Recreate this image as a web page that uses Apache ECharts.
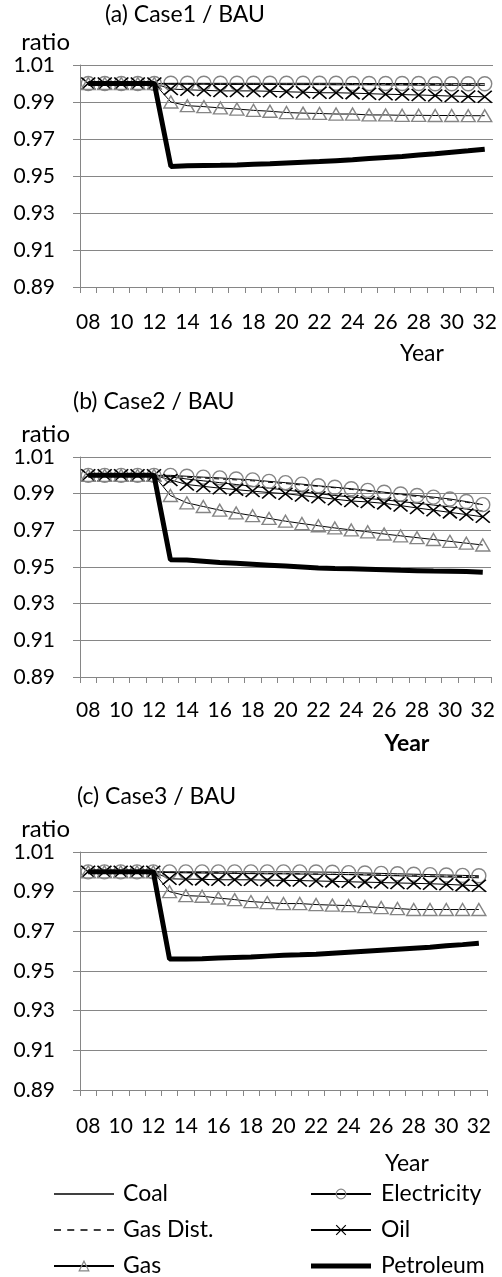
<!DOCTYPE html>
<html><head><meta charset="utf-8">
<script src="https://cdn.jsdelivr.net/npm/echarts@6/dist/echarts.min.js"></script>
<style>html,body{margin:0;padding:0;background:#fff}#c{width:502px;height:1277px}</style>
</head><body><div id="c"></div>
<script>
// ---- data ----
const years = ['08','09','10','11','12','13','14','15','16','17','18','19','20','21','22','23','24','25','26','27','28','29','30','31','32'];
const panelTitles = ['(a) Case1 / BAU', '(b) Case2 / BAU', '(c) Case3 / BAU'];
const yMin = 0.89, yMax = 1.01, yStep = 0.02;

// Panel (a) Case1 / BAU
const coalA    = [1,1,1,1,1, 0.9996,0.9996,0.9996,0.9995,0.9995,0.9995,0.9995,0.9994,0.9994,0.9994,0.9993,0.9993,0.9993,0.9992,0.9992,0.9991,0.9991,0.999,0.999,0.999];
const elecA    = [1,1,1,1,1, 1.0001,1.0001,1.0001,1.0001,1.0001,1.0001,1.0001,1.0001,1.0001,1.0001,1.0001,1.0,1.0,1.0,1.0,1.0,0.9999,0.9999,0.9999,0.9999];
const gasDistA = [1,1,1,1,1, 0.9998,0.9998,0.9998,0.9997,0.9997,0.9997,0.9997,0.9996,0.9996,0.9996,0.9996,0.9995,0.9995,0.9995,0.9994,0.9994,0.9994,0.9993,0.9993,0.9993];
const oilA     = [1,1,1,1,1, 0.997,0.9966,0.9963,0.996,0.996,0.996,0.9958,0.9955,0.9953,0.995,0.995,0.9948,0.9945,0.9942,0.994,0.9938,0.9935,0.9932,0.993,0.9928];
const gasA     = [1,1,1,1,1, 0.990,0.988,0.9875,0.9868,0.9862,0.9855,0.985,0.9843,0.984,0.9838,0.9835,0.9835,0.983,0.983,0.9828,0.9828,0.9827,0.9827,0.9826,0.9826];
const petroA   = [1,1,1,1,1, 0.9552,0.9555,0.9557,0.9558,0.956,0.9563,0.9566,0.957,0.9574,0.9578,0.9583,0.9588,0.9594,0.96,0.9606,0.9613,0.962,0.9628,0.9636,0.9645];

// Panel (b) Case2 / BAU
const coalB    = [1,1,1,1,1, 0.9992,0.998,0.997,0.996,0.995,0.994,0.993,0.992,0.991,0.990,0.989,0.9882,0.9874,0.9866,0.9857,0.9848,0.9838,0.9828,0.9816,0.9805];
const elecB    = [1,1,1,1,1, 1.0,0.9995,0.999,0.9986,0.998,0.9975,0.9967,0.996,0.9952,0.9943,0.9935,0.9927,0.9918,0.9908,0.9898,0.989,0.9881,0.9871,0.9857,0.984];
const gasDistB = [1,1,1,1,1, 0.9995,0.999,0.9985,0.998,0.9975,0.997,0.9962,0.9955,0.9947,0.994,0.9932,0.9923,0.9914,0.9905,0.9895,0.9885,0.9875,0.9865,0.9853,0.984];
const oilB     = [1,1,1,1,1, 0.9975,0.995,0.994,0.993,0.9922,0.9914,0.9906,0.990,0.989,0.988,0.987,0.986,0.9855,0.9847,0.9835,0.9822,0.981,0.9798,0.9786,0.9774];
const gasB     = [1,1,1,1,1, 0.989,0.985,0.983,0.981,0.9795,0.978,0.9765,0.975,0.9737,0.9725,0.9713,0.9702,0.9692,0.968,0.967,0.966,0.965,0.964,0.963,0.962];
const petroB   = [1,1,1,1,1, 0.954,0.9538,0.9532,0.9525,0.952,0.9515,0.951,0.9505,0.95,0.9495,0.9492,0.949,0.9488,0.9485,0.9482,0.948,0.9478,0.9477,0.9476,0.9472];

// Panel (c) Case3 / BAU
const coalC    = [1,1,1,1,1, 0.9996,0.9995,0.9994,0.9993,0.9992,0.9991,0.999,0.999,0.9989,0.9988,0.9987,0.9986,0.9984,0.9982,0.998,0.9978,0.9976,0.9974,0.9972,0.997];
const elecC    = [1,1,1,1,1, 1.0,1.0,1.0,1.0,1.0,1.0,1.0,1.0,1.0,0.9999,0.9998,0.9996,0.9994,0.9992,0.999,0.9988,0.9986,0.9984,0.9982,0.998];
const gasDistC = [1,1,1,1,1, 0.9998,0.9997,0.9996,0.9995,0.9994,0.9993,0.9992,0.9991,0.999,0.9989,0.9988,0.9987,0.9986,0.9984,0.9982,0.998,0.9979,0.9978,0.9976,0.9975];
const oilC     = [1,1,1,1,1, 0.9965,0.9963,0.9962,0.996,0.996,0.996,0.9958,0.9957,0.9956,0.9954,0.9952,0.995,0.9948,0.9946,0.9944,0.9942,0.994,0.9937,0.9933,0.993];
const gasC     = [1,1,1,1,1, 0.990,0.988,0.9877,0.9868,0.986,0.985,0.9845,0.984,0.984,0.9835,0.9832,0.983,0.9825,0.982,0.9815,0.981,0.981,0.981,0.981,0.981];
const petroC   = [1,1,1,1,1, 0.956,0.956,0.9562,0.9565,0.9568,0.957,0.9575,0.958,0.9582,0.9585,0.959,0.9595,0.96,0.9605,0.961,0.9615,0.962,0.9627,0.9633,0.964];

const seriesNames = ['Coal','Electricity','Gas Dist.','Oil','Gas','Petroleum'];
const panelData = [
  [coalA, elecA, gasDistA, oilA, gasA, petroA],
  [coalB, elecB, gasDistB, oilB, gasB, petroB],
  [coalC, elecC, gasDistC, oilC, gasC, petroC]
];

// ---- styling ----
const FONT = 'Lato';
const GRID_GRAY = '#868686';
const MARK_GRAY = '#858585';
const X_PATH = 'path://M0,0L10,10M10,0L0,10';
const styles = {
  'Coal':       {symbol:'none', lineStyle:{color:'#000', width:1}, itemStyle:{color:'#000'}},
  'Electricity':{symbol:'circle', symbolSize:14, lineStyle:{color:'#000', width:1}, itemStyle:{color:'rgba(255,255,255,0)', borderColor:MARK_GRAY, borderWidth:1.4}},
  'Gas Dist.':  {symbol:'none', lineStyle:{color:'#000', width:1, type:[5,4]}, itemStyle:{color:'#000'}},
  'Oil':        {symbol:X_PATH, symbolSize:[14,12], lineStyle:{color:'#000', width:1}, itemStyle:{color:'rgba(0,0,0,0)', borderColor:'#000', borderWidth:1.6}},
  'Gas':        {symbol:'triangle', symbolSize:[14,12], lineStyle:{color:'#000', width:1}, itemStyle:{color:'rgba(255,255,255,0)', borderColor:MARK_GRAY, borderWidth:1.4}},
  'Petroleum':  {symbol:'none', lineStyle:{color:'#000', width:5}, itemStyle:{color:'#000'}}
};

const grids = [
  {left:80, top:65, right:9, height:222},
  {left:80, top:457, right:11, height:220},
  {left:80, top:852, right:15, height:238}
];
const xLabelMargin = [25, 23, 26];
const yearName = [
  {gap:-71, pad:55, bold:false},
  {gap:-84, pad:55, bold:true},
  {gap:-80, pad:62, bold:false}
];
const titlePos = [{left:105, top:2}, {left:73, top:389}, {left:77, top:784}];

const legendCommon = {orient:'vertical', top:1182, itemWidth:60, itemHeight:12, itemGap:12, padding:0,
  height:100, symbolKeepAspect:true, selectedMode:false};

const option = {
  animation:false,
  textStyle:{fontFamily:FONT},
  title: panelTitles.map((t,i)=>({text:t, left:titlePos[i].left, top:titlePos[i].top, padding:0,
    textStyle:{fontFamily:FONT, fontSize:23, fontWeight:'normal', color:'#000', lineHeight:26}})),
  grid: grids.map(g=>Object.assign({containLabel:false, outerBoundsMode:'none'}, g)),
  xAxis: grids.map((g,i)=>({
    gridIndex:i, type:'category', data:years, boundaryGap:true,
    name:'Year', nameLocation:'end', nameGap:yearName[i].gap, nameMoveOverlap:false,
    nameTextStyle:{fontFamily:FONT, fontSize:23, color:'#000', fontWeight:yearName[i].bold?'bold':'normal',
      align:'center', verticalAlign:'top', lineHeight:23, padding:[yearName[i].pad,0,0,0]},
    axisLine:{show:true, lineStyle:{color:GRID_GRAY, width:1}},
    axisTick:{show:true, interval:0, length:6, alignWithLabel:false, lineStyle:{color:GRID_GRAY}},
    axisLabel:{interval:1, margin:xLabelMargin[i], fontFamily:FONT, fontSize:21, color:'#000'},
    splitLine:{show:false}
  })),
  yAxis: grids.map((g,i)=>({
    gridIndex:i, type:'value', min:yMin, max:yMax, interval:yStep,
    name:'ratio', nameLocation:'end', nameGap:23, nameMoveOverlap:false,
    nameTextStyle:{fontFamily:FONT, fontSize:24, color:'#000', align:'right', verticalAlign:'middle', padding:[0,10,0,0]},
    axisLine:{show:true, lineStyle:{color:GRID_GRAY, width:1}},
    axisTick:{show:true, length:7, lineStyle:{color:GRID_GRAY}},
    axisLabel:{margin:25, fontFamily:FONT, fontSize:21, color:'#000', formatter:v=>v.toFixed(2)},
    splitLine:{show:true, lineStyle:{color:GRID_GRAY, width:1}}
  })),
  legend: [
    Object.assign({}, legendCommon, {left:53,
     textStyle:{fontFamily:FONT, fontSize:23, lineHeight:24, color:'#000', padding:[0,0,0,4]},
     data:[
       {name:'Coal', icon:'path://M0,0H60V1.5H0Z', itemStyle:{color:'#000', borderWidth:0}},
       {name:'Gas Dist.', icon:'path://M0,0H7V1.5H0Z M13.25,0H20.25V1.5H13.25Z M26.5,0H33.5V1.5H26.5Z M39.75,0H46.75V1.5H39.75Z M53,0H60V1.5H53Z', itemStyle:{color:'#000', borderWidth:0}},
       {name:'Gas', itemStyle:{borderWidth:1.2}}
     ]}),
    Object.assign({}, legendCommon, {left:310,
     textStyle:{fontFamily:FONT, fontSize:23, lineHeight:24, color:'#000', padding:[0,0,0,5]},
     data:[
       {name:'Electricity', itemStyle:{borderWidth:1.2}},
       {name:'Oil', itemStyle:{borderWidth:1.2}},
       {name:'Petroleum', icon:'path://M0,0H60V5H0Z', itemStyle:{color:'#000', borderWidth:0}}
     ]})
  ],
  series: []
};

panelData.forEach((arrs, gi)=>{
  arrs.forEach((arr, si)=>{
    const name = seriesNames[si];
    const st = styles[name];
    option.series.push(Object.assign({
      type:'line', name:name, xAxisIndex:gi, yAxisIndex:gi, data:arr,
      showSymbol: st.symbol !== 'none', showAllSymbol:true, symbolKeepAspect:false,
      z: name === 'Petroleum' ? 5 : 3,
      emphasis:{disabled:true}, silent:true
    }, JSON.parse(JSON.stringify(st))));
  });
});

const chart = echarts.init(document.getElementById('c'), null, {renderer:'canvas'});
chart.setOption(option);
</script>
</body></html>
